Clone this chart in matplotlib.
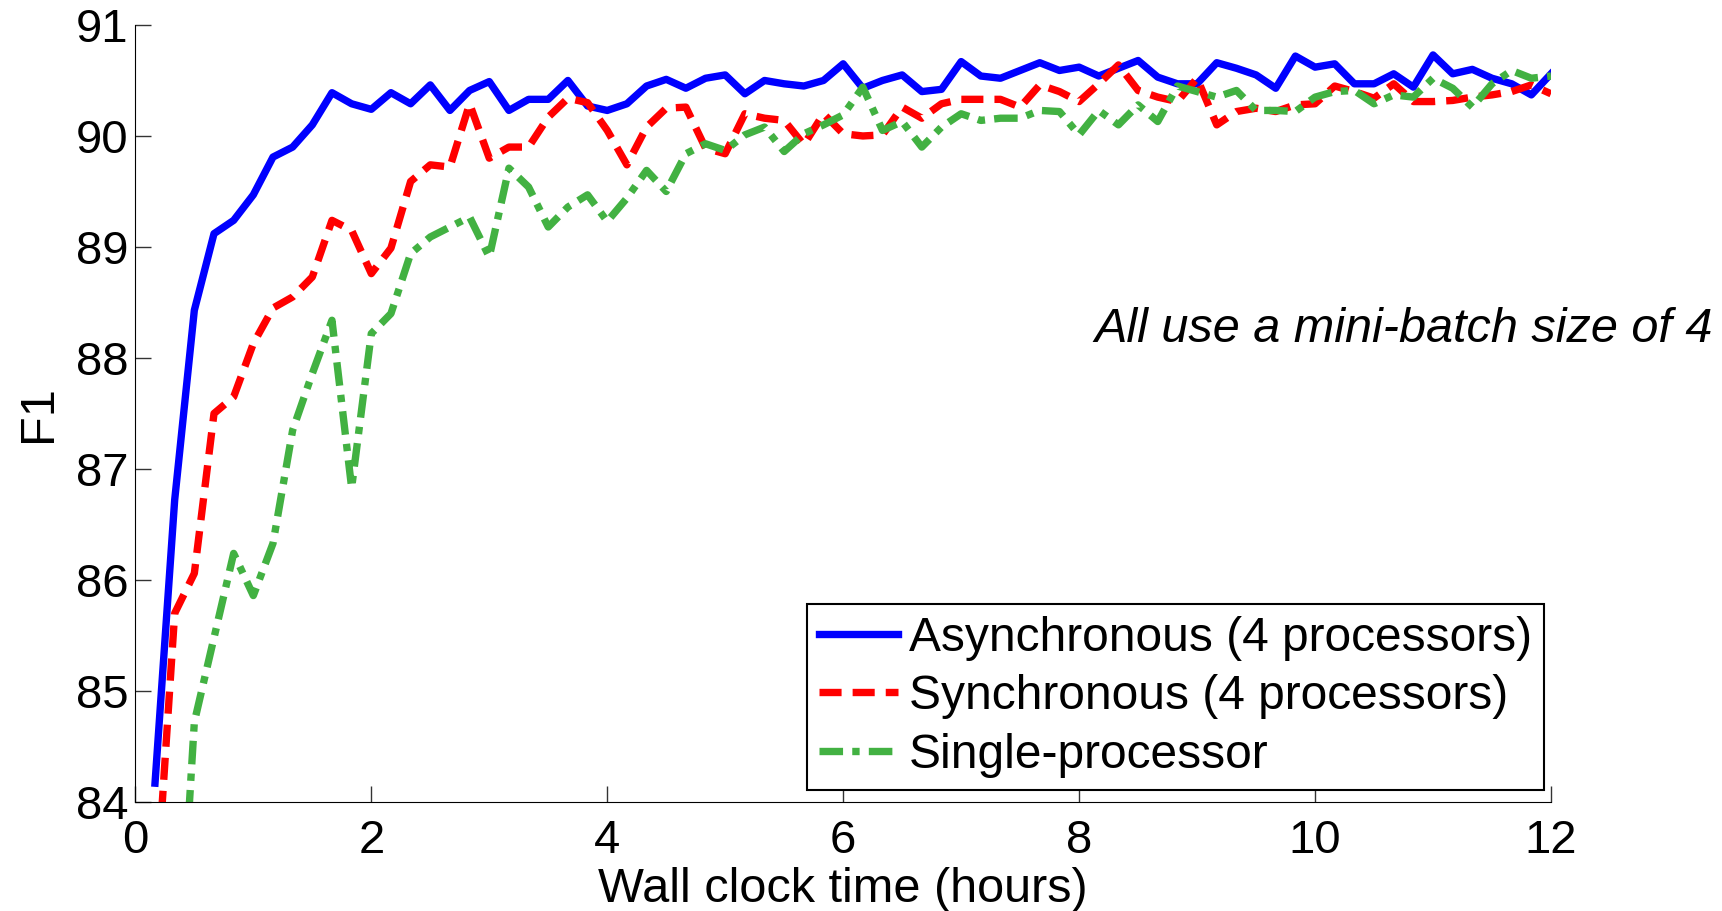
import numpy as np
import matplotlib.pyplot as plt

plt.rcParams['font.family'] = ['Liberation Sans', 'DejaVu Sans']

# one evaluation every 10 minutes, 72 points over 12 hours
steps = np.arange(1, 73)
hours = steps / 6.0

async_f1 = [84.17, 86.72, 88.43, 89.12, 89.24, 89.47, 89.81, 89.90, 90.10, 90.39,
            90.29, 90.24, 90.39, 90.29, 90.46, 90.23, 90.41, 90.49, 90.23, 90.33,
            90.33, 90.50, 90.27, 90.23, 90.29, 90.45, 90.51, 90.43, 90.52, 90.55,
            90.38, 90.50, 90.47, 90.45, 90.50, 90.65, 90.43, 90.50, 90.55, 90.40,
            90.42, 90.67, 90.54, 90.52, 90.59, 90.66, 90.59, 90.62, 90.54, 90.61,
            90.68, 90.53, 90.47, 90.47, 90.66, 90.61, 90.55, 90.43, 90.72, 90.62,
            90.65, 90.47, 90.47, 90.56, 90.44, 90.73, 90.56, 90.60, 90.52, 90.47,
            90.37, 90.56]

sync_f1 = [83.00, 85.70, 86.06, 87.50, 87.65, 88.13, 88.45, 88.55, 88.73, 89.24,
           89.15, 88.76, 88.99, 89.59, 89.74, 89.72, 90.29, 89.80, 89.90, 89.90,
           90.17, 90.34, 90.30, 90.05, 89.74, 90.08, 90.25, 90.26, 89.89, 89.84,
           90.20, 90.16, 90.14, 89.92, 90.20, 90.02, 90.00, 90.01, 90.26, 90.16,
           90.29, 90.33, 90.33, 90.33, 90.26, 90.46, 90.40, 90.31, 90.47, 90.64,
           90.41, 90.35, 90.31, 90.52, 90.10, 90.22, 90.25, 90.22, 90.28, 90.29,
           90.45, 90.40, 90.34, 90.47, 90.31, 90.31, 90.32, 90.35, 90.37, 90.40,
           90.46, 90.38]

single_f1 = [79.50, 81.80, 84.72, 85.48, 86.24, 85.86, 86.33, 87.35, 87.86, 88.34,
             86.83, 88.22, 88.40, 88.94, 89.09, 89.18, 89.27, 88.91, 89.71, 89.54,
             89.18, 89.36, 89.47, 89.23, 89.44, 89.69, 89.50, 89.84, 89.93, 89.87,
             90.01, 90.08, 89.86, 90.02, 90.10, 90.19, 90.44, 90.05, 90.13, 89.90,
             90.08, 90.20, 90.14, 90.16, 90.16, 90.23, 90.22, 90.01, 90.23, 90.10,
             90.28, 90.13, 90.45, 90.40, 90.35, 90.41, 90.23, 90.23, 90.22, 90.35,
             90.40, 90.41, 90.29, 90.37, 90.35, 90.52, 90.43, 90.26, 90.47, 90.59,
             90.52, 90.54]

fig = plt.figure(figsize=(17.22, 9.11), dpi=100)
ax = fig.add_axes([0.0786, 0.1196, 0.8221, 0.8530])

lw = 5.3
ax.plot(hours, async_f1, color='#0000FF', lw=lw, label='Asynchronous (4 processors)')
ax.plot(hours, sync_f1, color='#FF0000', lw=lw, dashes=(3.0, 1.5),
        label='Synchronous (4 processors)')
ax.plot(hours, single_f1, color='#42B142', lw=lw, dashes=(3.2, 1.25, 1.0, 1.25),
        label='Single-processor')

ax.set_xlim(0, 12)
ax.set_ylim(84, 91)
ax.set_xticks(range(0, 13, 2))
ax.set_yticks(range(84, 92))
ax.spines['top'].set_visible(False)
ax.spines['right'].set_visible(False)
ax.tick_params(direction='in', length=11.5, width=1, color='#333333', labelsize=34)
ax.tick_params(axis='x', pad=12)
ax.tick_params(axis='y', pad=5)

ax.set_xlabel('Wall clock time (hours)', fontsize=35, labelpad=3)
ax.set_ylabel('F1', fontsize=35, labelpad=11)

ax.text(13.37, 88.26, 'All use a mini-batch size of 4', style='italic',
        fontsize=35, ha='right', va='center', clip_on=False)

leg = ax.legend(loc='lower right', bbox_to_anchor=(0.995, 0.016), fontsize=34.5,
                frameon=True, fancybox=False, framealpha=1, edgecolor='black',
                handlelength=1.65, handletextpad=0.22, labelspacing=0.28,
                borderpad=0.25, borderaxespad=0)
leg.get_frame().set_linewidth(1.5)

fig.savefig('out.png', dpi=100)
